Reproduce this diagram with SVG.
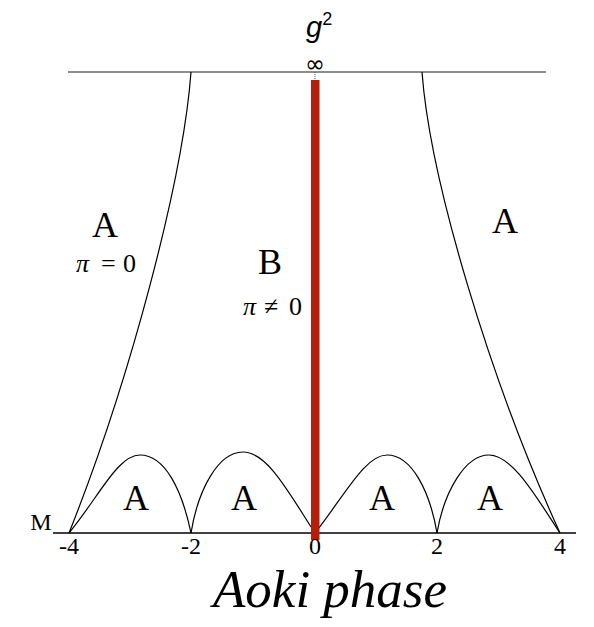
<svg xmlns="http://www.w3.org/2000/svg" width="594" height="627" viewBox="0 0 594 627">
<style>
.ln{fill:none;stroke:#000;stroke-width:1.2}
.sr{font-family:"Liberation Serif","Times New Roman",serif;fill:#000;text-anchor:middle}
.big{font-size:36px}
.lab{font-family:"Liberation Serif","Times New Roman",serif;fill:#000;font-size:26px}
.ax{font-size:24px}
</style>
<rect width="594" height="627" fill="#fff"/>
<g id="connectors">
<line x1="68" y1="72" x2="546" y2="72" stroke="#666" stroke-width="1.4"/>
<line x1="53" y1="533" x2="576" y2="533" stroke="#000" stroke-width="1.4"/>
<path class="ln" d="M191,72 C183,180 130,380 69,533"/>
<path class="ln" d="M422,72 C430,180 490,380 560,533"/>
<path class="ln" d="M69,533 C100,495 118,455 140,455 C165,455 182,490 191,533"/>
<path class="ln" d="M191,533 C198,490 218,452 243,452 C268,452 290,495 315,533"/>
<path class="ln" d="M315,533 C345,495 365,455 387,455 C412,455 430,492 437,533"/>
<path class="ln" d="M437,533 C444,492 465,455 489,455 C512,455 535,495 560,533"/>
<line x1="315" y1="72" x2="315" y2="80" stroke="#555" stroke-width="1" stroke-dasharray="1,1"/>
<rect x="311" y="80" width="8.5" height="460" fill="#b41e0b"/>
</g>
<g id="top-label">
<text x="306" y="37" font-family="Liberation Sans, Arial, sans-serif" font-size="29" font-style="italic">g<tspan font-size="18" dy="-12" font-style="normal">2</tspan></text>
<text x="315" y="72" font-family="DejaVu Sans, sans-serif" font-size="24" text-anchor="middle">∞</text>
</g>
<g id="region-A-left">
<text class="sr big" x="105" y="237">A</text>
<text class="lab" y="272"><tspan x="76" font-style="italic">π</tspan><tspan x="101">=</tspan><tspan x="123">0</tspan></text>
</g>
<g id="region-B">
<text class="sr big" x="270" y="274">B</text>
<text class="lab" y="315"><tspan x="243" font-style="italic">π</tspan><tspan x="264">≠</tspan><tspan x="289">0</tspan></text>
</g>
<g id="region-A-right">
<text class="sr big" x="505" y="233">A</text>
</g>
<g id="arch-A1"><text class="sr big" x="136" y="510">A</text></g>
<g id="arch-A2"><text class="sr big" x="244" y="510">A</text></g>
<g id="arch-A3"><text class="sr big" x="382" y="510">A</text></g>
<g id="arch-A4"><text class="sr big" x="490" y="510">A</text></g>
<g id="axis-labels">
<text class="sr ax" x="41" y="530">M</text>
<text class="sr ax" x="69" y="554">-4</text>
<text class="sr ax" x="191" y="554">-2</text>
<text class="sr ax" x="315" y="554">0</text>
<text class="sr ax" x="437" y="554">2</text>
<text class="sr ax" x="560" y="554">4</text>
</g>
<g id="title">
<text class="sr" x="330" y="607" font-size="53" font-style="italic">Aoki phase</text>
</g>
</svg>
